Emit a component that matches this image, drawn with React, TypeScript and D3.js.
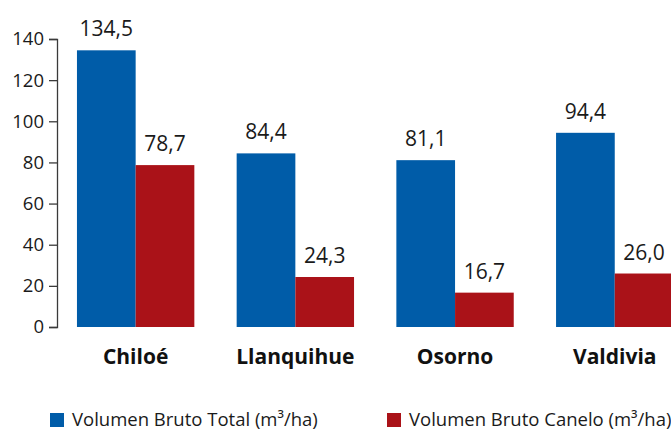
import React, { useEffect, useRef } from 'react';
import * as d3 from 'd3';

const regions = ['Chiloé', 'Llanquihue', 'Osorno', 'Valdivia'];
const volumenTotal = [134.5, 84.4, 81.1, 94.4];
const volumenCanelo = [78.7, 24.3, 16.7, 26.0];
const seriesNames = ['Volumen Bruto Total (m³/ha)', 'Volumen Bruto Canelo (m³/ha)'];
const yTicks = [0, 20, 40, 60, 80, 100, 120, 140];

const colors = ['#005ca8', '#aa1218'];
const font = '"Open Sans", sans-serif';

const width = 671;
const height = 432;

export default function App() {
  const axisRef = useRef<SVGGElement>(null);

  const x = d3.scaleBand<string>()
    .domain(regions)
    .range([57, 693.4])
    .paddingInner(0.265)
    .paddingOuter(0.125);

  const inner = d3.scaleBand<number>()
    .domain([0, 1])
    .range([0, x.bandwidth()]);

  const y = d3.scaleLinear()
    .domain([0, 140])
    .range([327, 39]);

  useEffect(() => {
    const g = d3.select(axisRef.current);
    g.selectAll('*').remove();
    g.call(d3.axisLeft(y).tickValues(yTicks).tickSize(8).tickSizeOuter(8).tickPadding(5));
    g.selectAll('path, line').attr('stroke', '#3a3a3a').attr('stroke-width', 1.3);
    g.selectAll('text')
      .attr('font-family', font)
      .attr('font-size', 18.5)
      .attr('fill', '#1a1a1a');
    g.attr('font-family', null).attr('font-size', null);
  }, []);

  const fmt = (v: number) => v.toFixed(1).replace('.', ',');

  const series = [volumenTotal, volumenCanelo];

  return (
    <svg width={width} height={height} style={{ position: 'absolute', left: 0, top: 0, background: '#fff' }}>
      {series.map((vals, si) =>
        regions.map((r, i) => (
          <g key={r + si}>
            <rect
              x={x(r)! + inner(si)!}
              y={y(vals[i])}
              width={inner.bandwidth()}
              height={y(0) - y(vals[i])}
              fill={colors[si]}
            />
            <text
              x={x(r)! + inner(si)! + inner.bandwidth() / 2}
              y={y(vals[i]) - 14}
              textAnchor="middle"
              fontFamily={font}
              fontSize={21}
              fill="#1a1a1a"
            >
              {fmt(vals[i])}
            </text>
          </g>
        ))
      )}
      <g ref={axisRef} transform="translate(57,0)" />
      {regions.map(r => (
        <text
          key={r}
          x={x(r)! + x.bandwidth() / 2}
          y={364}
          textAnchor="middle"
          fontFamily={font}
          fontWeight="bold"
          fontSize={21}
          fill="#111"
        >
          {r}
        </text>
      ))}
      {seriesNames.map((name, i) => (
        <g key={name} transform={`translate(${i === 0 ? 50 : 387},413)`}>
          <rect width={14} height={14} fill={colors[i]} />
          <text x={22} y={13} fontFamily={font} fontSize={18.5} fill="#1a1a1a">
            {name}
          </text>
        </g>
      ))}
    </svg>
  );
}
